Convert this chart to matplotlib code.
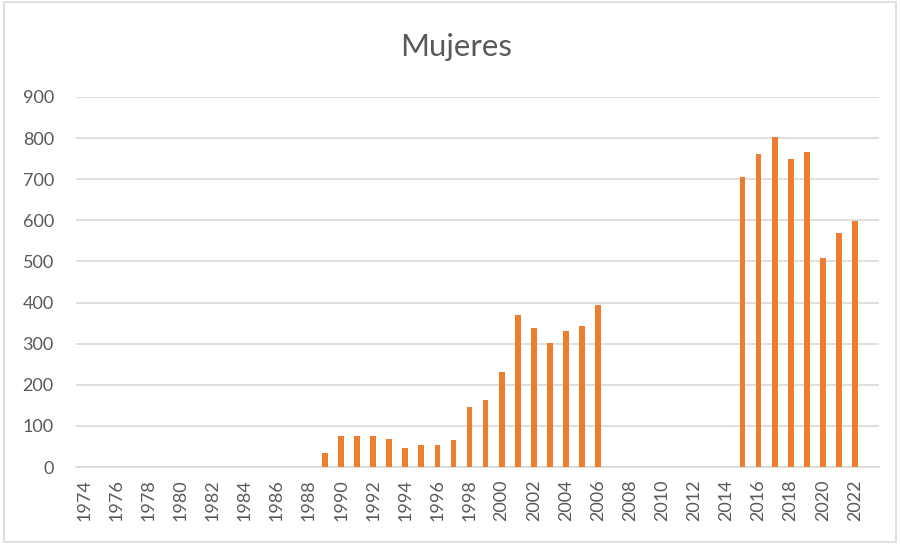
import matplotlib
matplotlib.use("Agg")
import matplotlib.pyplot as plt
from matplotlib.patches import Rectangle

years = list(range(1974, 2024))
bar_years = [1989, 1990, 1991, 1992, 1993, 1994, 1995, 1996, 1997, 1998, 1999,
             2000, 2001, 2002, 2003, 2004, 2005, 2006,
             2015, 2016, 2017, 2018, 2019, 2020, 2021, 2022]
bar_values = [33, 75, 75, 75, 69, 46, 54, 54, 66, 146, 163,
              230, 369, 338, 302, 332, 344, 393,
              706, 761, 802, 749, 767, 508, 569, 599]
tick_years = list(range(1974, 2023, 2))
title = "Mujeres"
yticks = [0, 100, 200, 300, 400, 500, 600, 700, 800, 900]

plt.rcParams['font.family'] = ['Lato', 'DejaVu Sans']

fig = plt.figure(figsize=(9, 5.44), dpi=100)
fig.patches.append(Rectangle((0.004, 0.004), 0.992, 0.992, transform=fig.transFigure,
                             fill=False, edgecolor='#d9d9d9', linewidth=1.2))
ax = fig.add_axes([0.0845, 0.1415, 0.8922, 0.6802])

ax.bar([years.index(y) for y in bar_years], bar_values,
       width=0.36, color='#ED7D31', zorder=3)

ax.set_xlim(-0.5, len(years) - 0.5)
ax.set_ylim(0, 900)
ax.set_yticks(yticks)
ax.set_yticklabels([str(v) for v in yticks])
ax.yaxis.grid(True, color='#d9d9d9', linewidth=1.2, zorder=0)
ax.set_axisbelow(True)
for s in ['top', 'right', 'left']:
    ax.spines[s].set_visible(False)
ax.spines['bottom'].set_color('#d9d9d9')
ax.spines['bottom'].set_linewidth(1.2)

ax.set_xticks([years.index(y) for y in tick_years])
ax.set_xticklabels([str(y) for y in tick_years], rotation=90)
ax.tick_params(axis='both', length=0, labelsize=13, colors='#595959')
ax.tick_params(axis='x', pad=9)
ax.tick_params(axis='y', pad=16)

fig.text(0.507, 0.897, title, ha='center', va='baseline', fontsize=22.5, color='#595959')

fig.savefig("out.png", dpi=100)
